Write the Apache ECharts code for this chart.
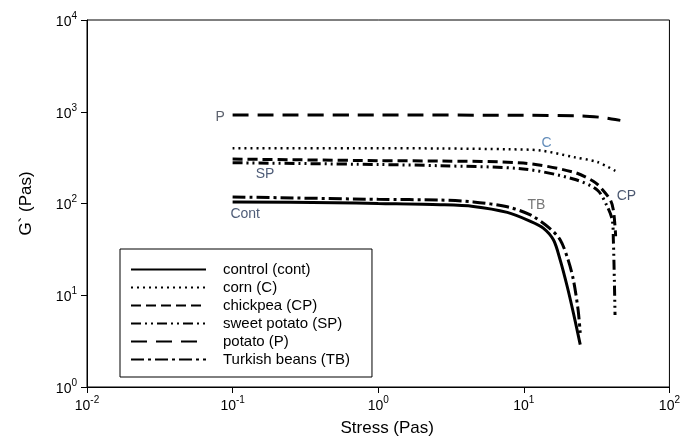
<!DOCTYPE html>
<html><head><meta charset="utf-8">
<script src="https://cdn.jsdelivr.net/npm/echarts@6/dist/echarts.min.js"></script>
<style>html,body{margin:0;padding:0;background:#fff}#c{width:683px;height:442px}</style>
</head><body><div id="c"></div>
<script>
var seriesNames = ['control (cont)','corn (C)','chickpea (CP)','sweet potato (SP)','potato (P)','Turkish beans (TB)'];
var contData = [[0.1,104],[0.5,102],[1,100],[2.67,97],[4.5,93],[7.7,80],[11.1,64],[13.6,54],[16,40],[17.8,24],[19.9,12.3],[21.9,6.4],[24.4,2.9]];
var cornData = [[0.1,400],[1,400],[2.67,398],[8,390],[13,378],[21.9,321],[32,283],[44,220]];
var chickpeaData = [[0.1,305],[1,293],[2.67,290],[9.9,276],[21.9,220],[30,175],[33.6,150],[39.3,109],[41.2,85],[42.5,51],[42.7,44]];
var sweetPotatoData = [[0.1,278],[1,266],[2.67,258],[9.9,238],[21.9,185],[32,140],[37.5,92],[40.5,66],[41.2,40],[41.9,13.5],[42.3,6.1]];
var potatoData = [[0.1,920],[1,920],[10,915],[25,900],[33.6,870],[40,835],[46,805]];
var turkishData = [[0.1,118],[1,111],[2.67,109],[4.5,104],[7.7,92],[11.1,75],[15,54],[17.8,40],[20.2,24],[21.9,14.7],[23.6,6.9],[24.4,3.9]];
var annotations = [
  {text:'P', x:0.082, y:877, color:'#333a48'},
  {text:'C', x:14.3, y:456, color:'#3b6fa8'},
  {text:'SP', x:0.167, y:210, color:'#223355'},
  {text:'Cont', x:0.122, y:77, color:'#223355'},
  {text:'TB', x:12.2, y:96, color:'#555555'},
  {text:'CP', x:50.6, y:121, color:'#1a2a4a'}
];
var lineTypes = ['solid',[2,4],[10,5],[10,4,2,4,2,4],[16,9],[13,4,3,4]];
var lineWidths = [3,2.5,3,3,3,3];
var datasets = [contData,cornData,chickpeaData,sweetPotatoData,potatoData,turkishData];

function expLabel(v){
  var e = Math.round(Math.log10(v));
  return '{b|10}{s|' + e + '}';
}
var rich = {b:{fontSize:14,fontFamily:'Arial, Liberation Sans',color:'#000',verticalAlign:'bottom',lineHeight:18},
            s:{fontSize:10,fontFamily:'Arial, Liberation Sans',color:'#000',verticalAlign:'top',lineHeight:18,padding:[0,0,6,0]}};

var series = datasets.map(function(d,i){
  return {name:seriesNames[i], type:'line', data:d, symbol:'none', smooth:0.3,
          lineStyle:{color:'#000', width:lineWidths[i], type:lineTypes[i]}, itemStyle:{color:'#000'}};
});
series.push({type:'scatter', name:'labels', symbolSize:0, silent:true,
  data: annotations.map(function(a){return {value:[a.x,a.y], label:{show:true, position:'inside', formatter:a.text, color:a.color, fontSize:14, fontFamily:'Arial, Liberation Sans'}};})
});

var chart = echarts.init(document.getElementById('c'));
chart.setOption({
  animation:false,
  backgroundColor:'#fff',
  grid:{left:87, right:13, top:20, bottom:55, show:true, borderColor:'#000', borderWidth:1},
  legend:{data:seriesNames, orient:'vertical', left:120, top:249, itemWidth:75, itemHeight:14, itemGap:3,
    padding:[13,22,10,10], borderColor:'#000', borderWidth:1, backgroundColor:'#fff',
    itemStyle:{color:'rgba(0,0,0,0)', borderWidth:0, opacity:0},
    textStyle:{fontSize:15, lineHeight:14, fontFamily:'Arial, Liberation Sans', color:'#000', padding:[0,0,0,12]}, selectedMode:false},
  xAxis:{type:'log', logBase:10, min:0.01, max:100, name:'Stress (Pas)', nameLocation:'middle', nameGap:33,
    nameTextStyle:{fontSize:17, fontFamily:'Arial, Liberation Sans', color:'#000', padding:[0,0,0,18]},
    axisLine:{lineStyle:{color:'#000',width:1}}, axisTick:{show:true,length:6,lineStyle:{color:'#000'}},
    minorTick:{show:false}, splitLine:{show:false},
    axisLabel:{formatter:expLabel, rich:rich, margin:8}},
  yAxis:{type:'log', logBase:10, min:1, max:10000, name:'G` (Pas)', nameLocation:'middle', nameGap:52,
    nameTextStyle:{fontSize:17, fontFamily:'Arial, Liberation Sans', color:'#000'},
    axisLine:{lineStyle:{color:'#000',width:1}}, axisTick:{show:true,length:6,lineStyle:{color:'#000'}},
    splitLine:{show:false},
    axisLabel:{formatter:expLabel, rich:rich, margin:10}},
  series:series
});
</script></body></html>
